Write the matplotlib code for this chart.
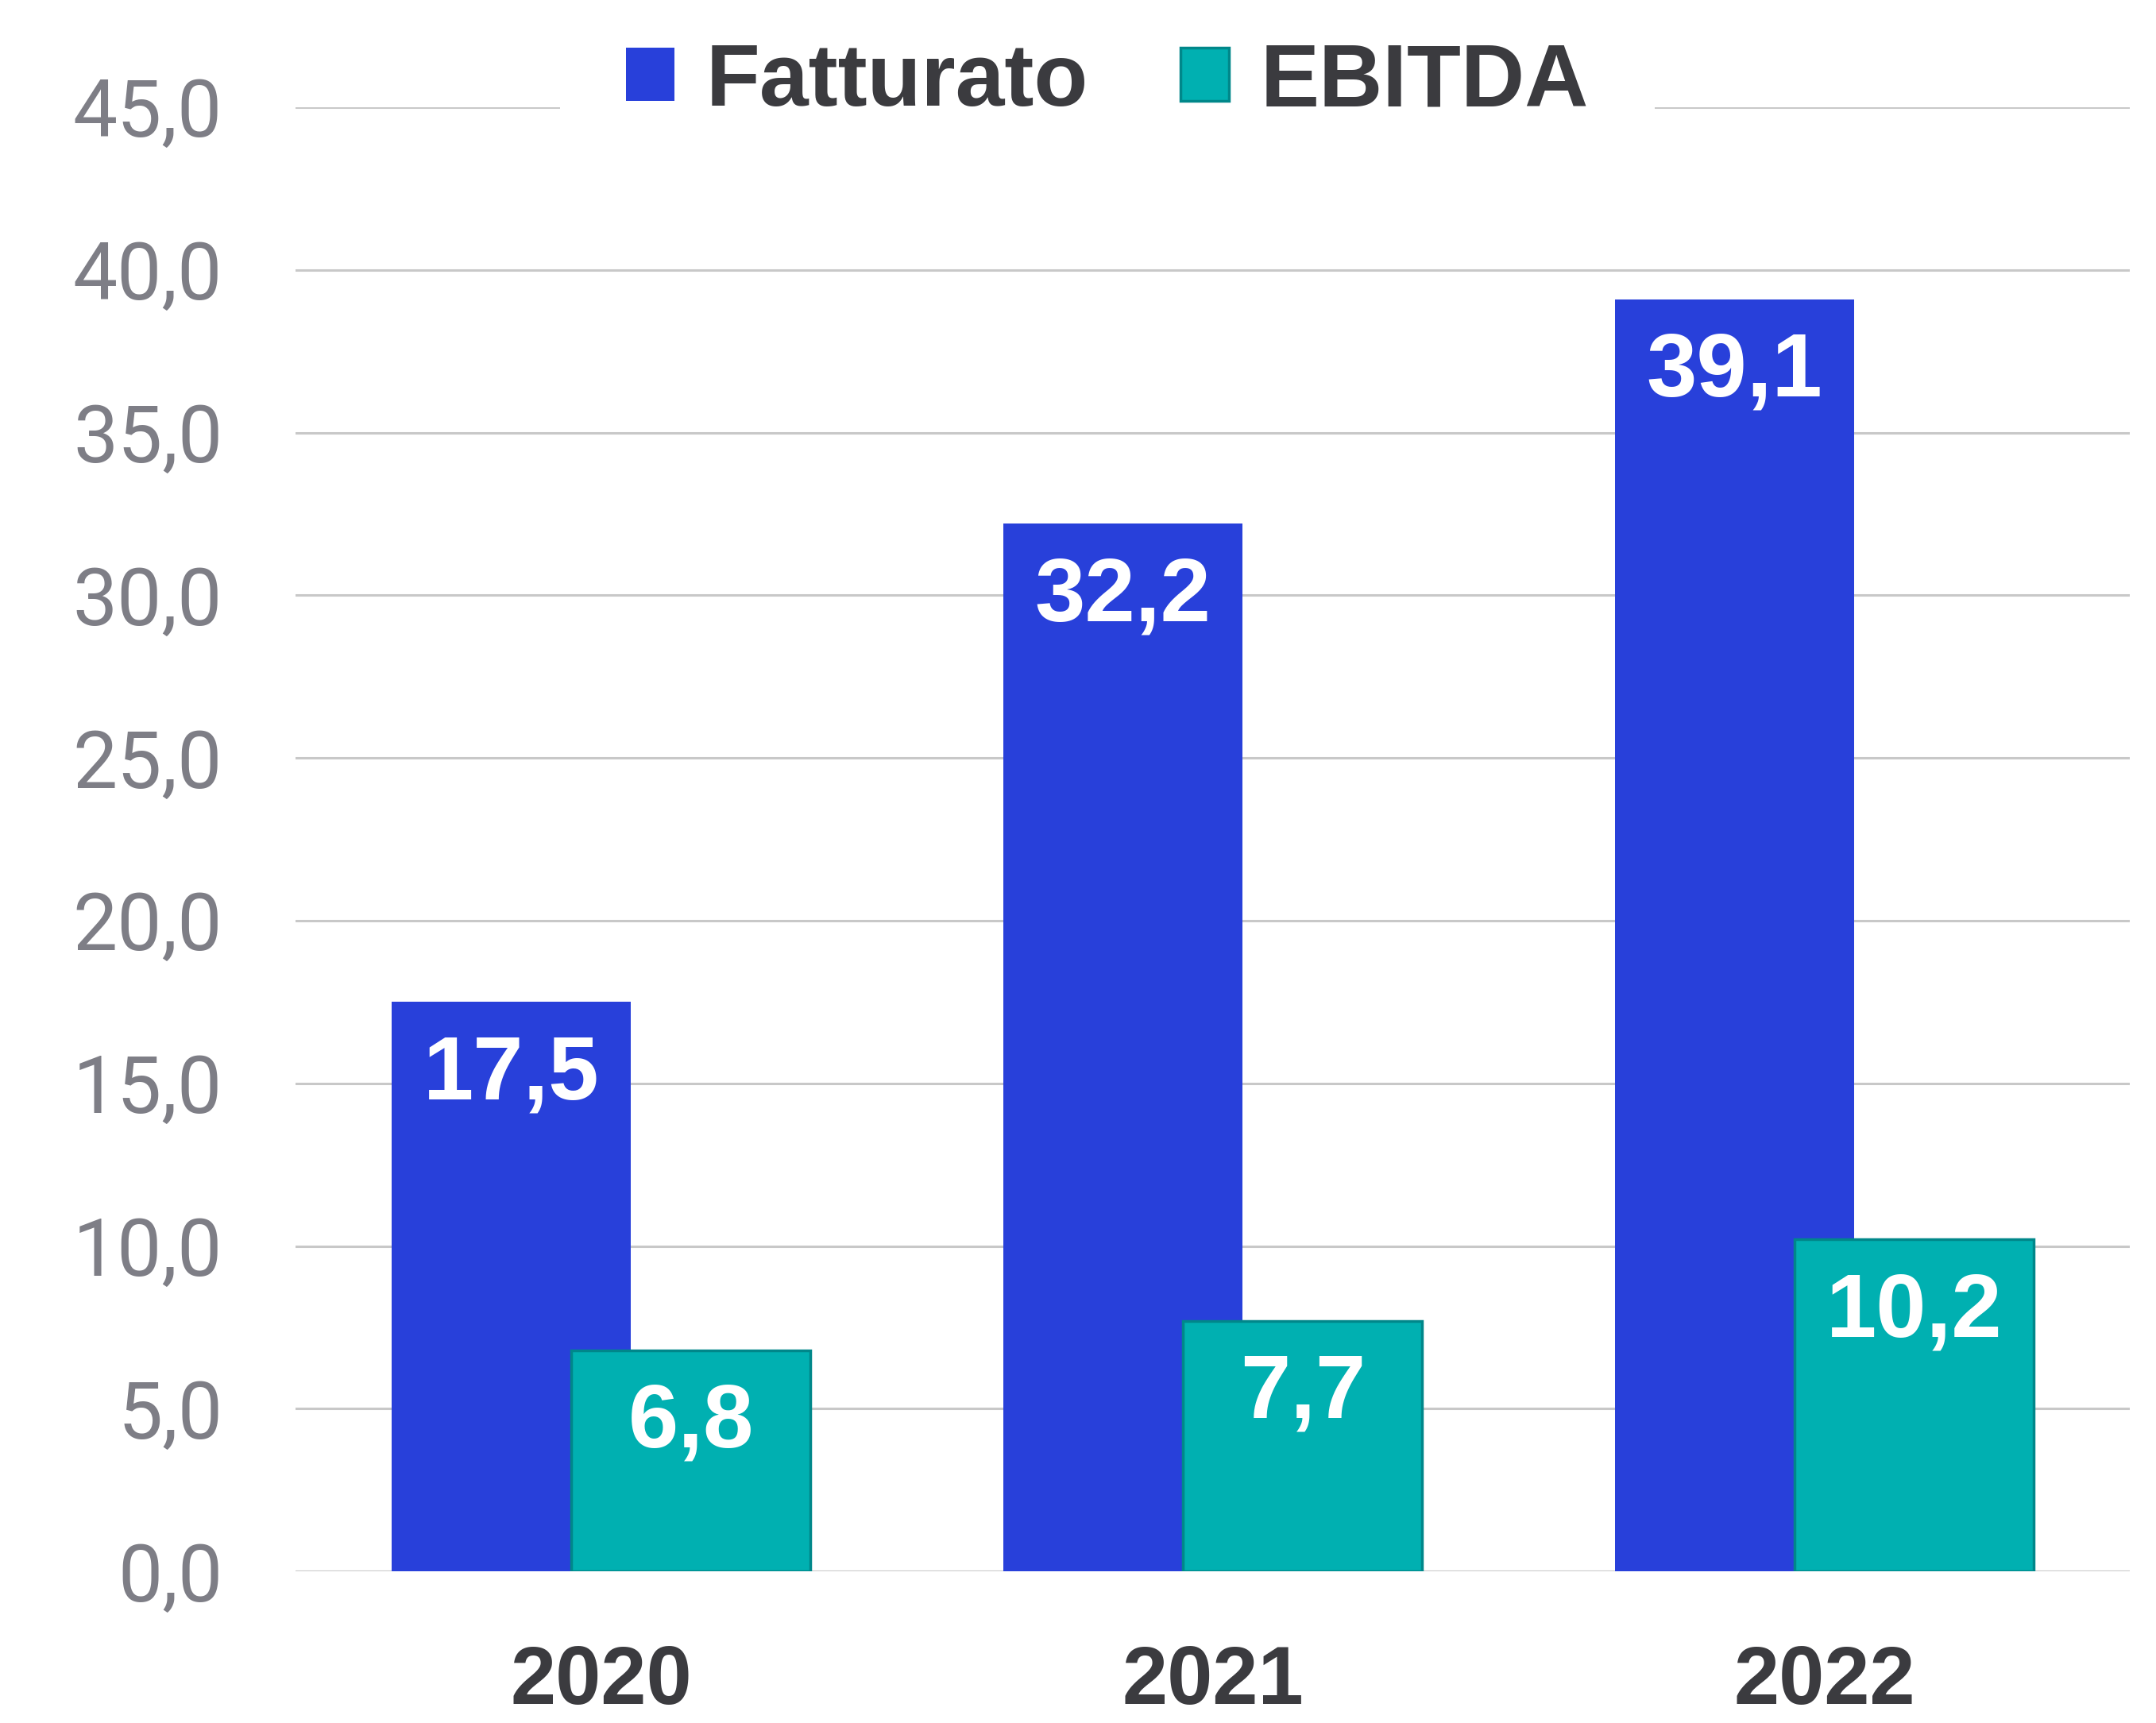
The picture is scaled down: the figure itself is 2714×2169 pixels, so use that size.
import matplotlib
matplotlib.use("Agg")
import matplotlib.pyplot as plt
import numpy as np
from matplotlib.ticker import FuncFormatter, MultipleLocator

years = ["2020", "2021", "2022"]
fatturato = [17.5, 32.2, 39.1]
ebitda = [6.8, 7.7, 10.2]
series_names = ["Fatturato", "EBITDA"]

BLUE = "#2840DA"
TEAL = "#00B0B1"
TEAL_EDGE = "#00878A"
GRID = "#C8C8C8"
TICK_GRAY = "#7E7E86"
DARK = "#3B3B3F"

fig = plt.figure(figsize=(27.14, 21.69), dpi=100)
ax = fig.add_axes([0.137, 0.088, 0.851, 0.8498])

x = np.arange(len(years))
w = 0.391
off = 0.147

b1 = ax.bar(x - off, fatturato, width=w, color=BLUE, zorder=3, label=series_names[0])
b2 = ax.bar(x + off, ebitda, width=w, color=TEAL, edgecolor=TEAL_EDGE,
            linewidth=2.5, zorder=4, label=series_names[1])

lab_font = dict(family=["Liberation Sans", "DejaVu Sans"], weight="bold", size=82, color="white")
for bars, vals in ((b1, fatturato), (b2, ebitda)):
    for r, v in zip(bars, vals):
        ax.annotate(f"{v:.1f}".replace(".", ","),
                    xy=(r.get_x() + r.get_width() / 2, r.get_height()),
                    xytext=(0, -67), textcoords="offset points",
                    ha="center", va="center", zorder=6, **lab_font)

ax.set_xlim(-0.5, 2.5)
ax.set_ylim(0, 45)
ax.yaxis.set_major_locator(MultipleLocator(5))
ax.yaxis.set_major_formatter(FuncFormatter(lambda v, p: f"{v:.1f}".replace(".", ",")))
ax.set_xticks(x)
ax.set_xticklabels(years)

for s in ax.spines.values():
    s.set_visible(False)
ax.grid(axis="y", color=GRID, linewidth=2.2, zorder=0)
ax.set_axisbelow(True)
ax.tick_params(axis="both", length=0)
ax.tick_params(axis="y", pad=66, labelsize=72, labelcolor=TICK_GRAY)
ax.tick_params(axis="x", pad=66, labelsize=74, labelcolor=DARK)
for t in ax.get_yticklabels():
    t.set_fontfamily(["Roboto", "DejaVu Sans"])
    t.set_fontweight("normal")
for t in ax.get_xticklabels():
    t.set_fontfamily(["Liberation Sans", "DejaVu Sans"])
    t.set_fontweight("bold")

leg = fig.legend(handles=[b1, b2], labels=series_names, loc="center",
                 bbox_to_anchor=(1394 / 2714, 1 - 104 / 2169), ncol=2,
                 frameon=True, fancybox=False, framealpha=1.0, edgecolor="none",
                 facecolor="white", handlelength=0.55, handleheight=0.55,
                 handletextpad=0.35, columnspacing=1.05, borderpad=0.75,
                 prop=dict(family=["Liberation Sans", "DejaVu Sans"], weight="bold", size=80))
for t in leg.get_texts():
    t.set_color(DARK)
leg.set_zorder(10)

fig.savefig("out.png", dpi=100, facecolor="white")
